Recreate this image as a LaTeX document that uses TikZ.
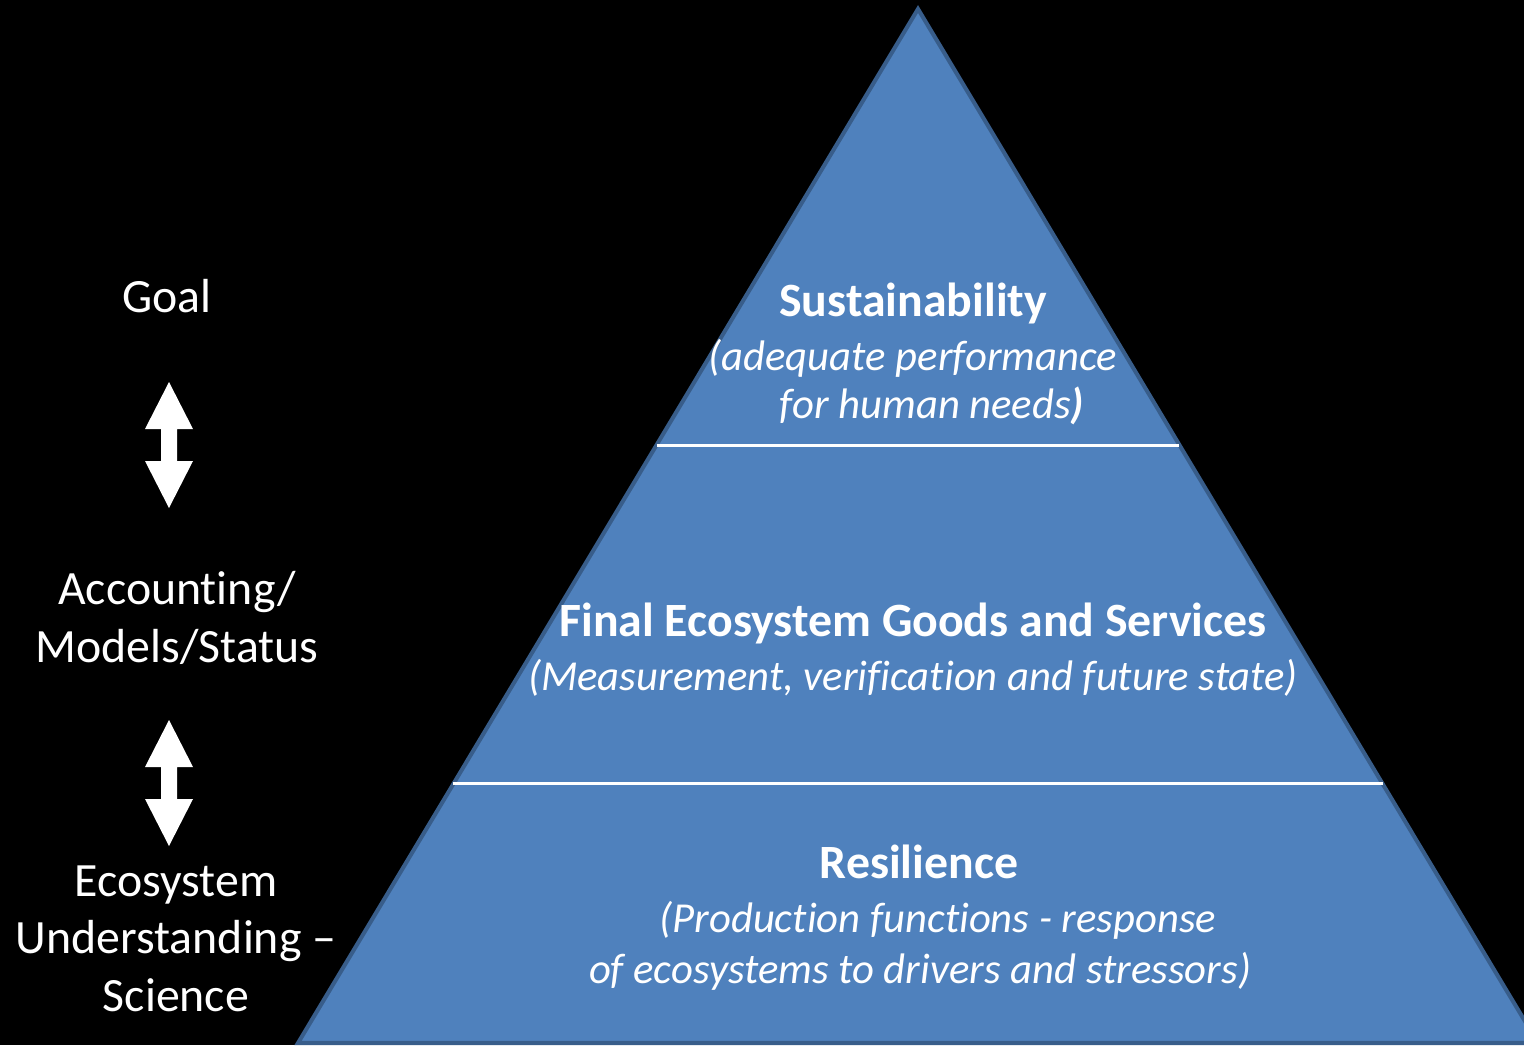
\documentclass[tikz,border=0pt]{standalone}
\usepackage{fontspec}
\setmainfont{Carlito}[Ligatures={NoCommon}]
\usepackage{tikz}
\usepackage{xcolor}
\usetikzlibrary{calc}

\definecolor{pyrfill}{HTML}{4F81BD}
\definecolor{pyredge}{HTML}{385D8A}

\begin{document}
\begin{tikzpicture}
  [x=0.02cm,y=-0.02cm,
   every node/.style={text=white,inner sep=0pt,anchor=base},
   sidelbl/.style={font=\fontsize{27.2}{32.6}\selectfont,align=center},
   tierhead/.style={font=\bfseries\fontsize{27.2}{32.6}\selectfont},
   tiernote/.style={font=\itshape\fontsize{24.3}{29}\selectfont}]

  \fill[black] (0,0) rectangle (1524,1045);
  \useasboundingbox (0,0) rectangle (1524,1045);
  \clip (0,0) rectangle (1524,1045);

  % pyramid
  \coordinate (apex) at (918,9);
  \coordinate (bl) at (298,1043);
  \coordinate (br) at (1538,1043);
  \draw[fill=pyrfill,draw=pyredge,line width=2.3pt,line join=miter]
    (apex) -- (bl) -- (br) -- cycle;

  \coordinate (d1l) at ($(apex)!0.4217!(bl)$);
  \coordinate (d1r) at ($(apex)!0.4217!(br)$);
  \coordinate (d2l) at ($(apex)!0.7495!(bl)$);
  \coordinate (d2r) at ($(apex)!0.7495!(br)$);
  \draw[white,line width=1.7pt] (d1l) -- (d1r);
  \draw[white,line width=1.7pt] (d2l) -- (d2r);

  % tier texts
  \node[tierhead] (sust) at (913,316) {Sustainability};
  \node[tiernote] (sustA) at (913,370) {(adequate performance};
  \node[tiernote] (sustB) at (932,418) {for human needs\textbf{)}};

  \node[tierhead] (fegs) at (913,636) {Final Ecosystem Goods and Services};
  \node[tiernote] (fegsA) at (913,690) {(Measurement, verification and future state)};

  \node[tierhead] (resil) at (919,878) {Resilience};
  \node[tiernote] (resilA) at (938,932) {(Production functions - response};
  \node[tiernote] (resilB) at (920,983) {of ecosystems to drivers and stressors)};

  % left side labels (base = last line)
  \node[sidelbl] (goal) at (167,312) {Goal};
  \node[sidelbl] (acct) at (177,662) {Accounting/\\Models/Status};
  \node[sidelbl] (eco) at (176,1011) {Ecosystem\\Understanding --\\Science};

  % double arrows
  \foreach \y in {382,720}
    \fill[white] (169,\y) -- (193,\y+47) -- (177,\y+47) -- (177,\y+79)
      -- (193,\y+79) -- (169,\y+126) -- (145,\y+79) -- (161,\y+79)
      -- (161,\y+47) -- (145,\y+47) -- cycle;
\end{tikzpicture}
\end{document}
